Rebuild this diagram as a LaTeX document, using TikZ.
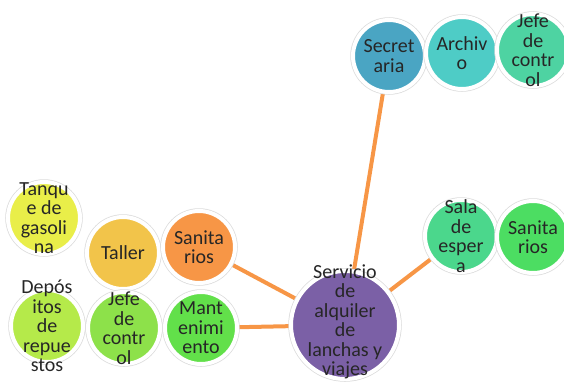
\documentclass[tikz,border=0pt]{standalone}
\usepackage{fontspec}
\setmainfont{Carlito}
\usetikzlibrary{positioning, backgrounds}
\definecolor{cPurple}{HTML}{7B60A6}
\definecolor{cSec}{HTML}{4AA5C3}
\definecolor{cArch}{HTML}{4ECCC6}
\definecolor{cJefeA}{HTML}{4ED3A2}
\definecolor{cSala}{HTML}{4BD78C}
\definecolor{cSanA}{HTML}{4CDD62}
\definecolor{cTanq}{HTML}{E9EE49}
\definecolor{cTall}{HTML}{F2C44A}
\definecolor{cSanB}{HTML}{F79646}
\definecolor{cDepo}{HTML}{B5EA4A}
\definecolor{cJefeB}{HTML}{8DE14A}
\definecolor{cMant}{HTML}{62E04A}
\definecolor{cLink}{HTML}{F79646}
\definecolor{cText}{HTML}{262626}
\tikzset{
	bubble/.style={circle, fill=#1, minimum size=72pt, inner sep=0pt, draw=white, line width=4pt,
		preaction={draw=black!14, line width=5.5pt}},
	bubtext/.style={align=center, text=cText, inner sep=0pt, font=\fontsize{20}{19.5}\selectfont},
	link/.style={draw=cLink, line width=4pt},
}
\begin{document}
\begin{tikzpicture}[x=1pt, y=-1pt]
	\useasboundingbox (0,0) rectangle (564,381);
	% centre
	\node[bubble=cPurple, minimum size=108pt] (srv) at (345,325) {};
	\node[bubtext] (srv-t) at ([yshift=3pt]srv.center) {Servicio\\de\\alquiler\\de\\lanchas y\\viajes};
	% top row
	\node[bubble=cSec] (sec) at (389,56) {};
	\node[bubtext] (sec-t) at (sec) {Secret\\aria};
	\node[bubble=cArch] (arc) at (462,53) {};
	\node[bubtext] (arc-t) at (arc) {Archiv\\o};
	\node[bubble=cJefeA] (jefA) at (533,50) {};
	\node[bubtext] (jefA-t) at (jefA) {Jefe\\de\\contr\\ol};
	% right row
	\node[bubble=cSala] (sala) at (461,236) {};
	\node[bubtext] (sala-t) at (sala) {Sala\\de\\esper\\a};
	\node[bubble=cSanA] (sanA) at (533,237) {};
	\node[bubtext] (sanA-t) at (sanA) {Sanita\\rios};
	% left rows
	\node[bubble=cTanq] (tanq) at (44,218) {};
	\node[bubtext] (tanq-t) at (tanq) {Tanqu\\e de\\gasoli\\na};
	\node[bubble=cTall] (tall) at (123,253) {};
	\node[bubtext] (tall-t) at (tall) {Taller};
	\node[bubble=cSanB] (sanB) at (199,247) {};
	\node[bubtext] (sanB-t) at (sanB) {Sanita\\rios};
	\node[bubble=cDepo] (depo) at (47,326) {};
	\node[bubtext] (depo-t) at (depo) {Depós\\itos\\de\\repue\\stos};
	\node[bubble=cJefeB] (jefB) at (124,328) {};
	\node[bubtext] (jefB-t) at (jefB) {Jefe\\de\\contr\\ol};
	\node[bubble=cMant] (mant) at (201,328) {};
	\node[bubtext] (mant-t) at (mant) {Mant\\enimi\\ento};
	% connectors
	\begin{scope}[on background layer]
		\draw[link] (sec) -- (srv);
		\draw[link] (sala) -- (srv);
		\draw[link] (sanB) -- (srv);
		\draw[link] (mant) -- (srv);
	\end{scope}
\end{tikzpicture}
\end{document}
